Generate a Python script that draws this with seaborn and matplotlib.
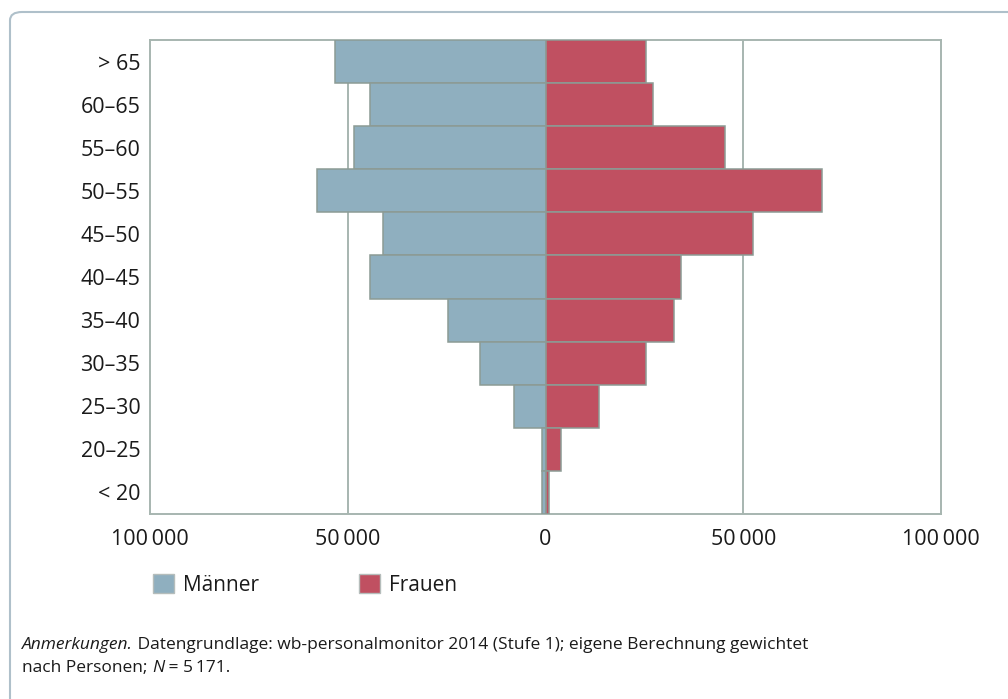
import pandas as pd
import seaborn as sns
import matplotlib.pyplot as plt
from matplotlib import font_manager
from matplotlib.patches import Patch, FancyBboxPatch
from matplotlib.ticker import FuncFormatter

# age groups, top to bottom
age_groups = ["> 65", "60–65", "55–60", "50–55", "45–50", "40–45",
              "35–40", "30–35", "25–30", "20–25", "< 20"]
maenner = [53200, 44400, 48400, 57900, 41200, 44400, 24600, 16600, 7900, 800, 800]
frauen = [25500, 27100, 45400, 69900, 52500, 34200, 32600, 25500, 13500, 4000, 900]

male_col = "#8FAFBF"
female_col = "#C05061"
edge_col = "#8C9B94"
line_col = "#A7B6B0"

available = {f.name for f in font_manager.fontManager.ttflist}
font = "DejaVu Sans"
for name in ["Liberation Sans Narrow", "Open Sans", "Noto Sans", "Roboto"]:
    if name in available:
        font = name
        break

sns.set_style("white")
plt.rcParams["font.family"] = [font, "DejaVu Sans"]
plt.rcParams["text.color"] = "#1a1a1a"

df = pd.DataFrame({
    "age": age_groups * 2,
    "value": [-v for v in maenner] + frauen,
    "sex": ["Männer"] * len(age_groups) + ["Frauen"] * len(age_groups),
})

fig = plt.figure(figsize=(10.08, 6.99), dpi=100)
ax = fig.add_axes([150 / 1008, 1 - 514 / 699, 791 / 1008, 474 / 699])

sns.barplot(data=df, x="value", y="age", hue="sex", order=age_groups,
            palette={"Männer": male_col, "Frauen": female_col},
            saturation=1, dodge=False, width=1.0, orient="h",
            edgecolor=edge_col, linewidth=1.1, legend=False, ax=ax, zorder=3)

ax.set_xlim(-100000, 100000)
ax.set_ylim(len(age_groups) - 0.5, -0.5)
for x in (-50000, 50000):
    ax.axvline(x, color=line_col, lw=1.4, zorder=1)

ax.set_xticks([-100000, -50000, 0, 50000, 100000])
ax.xaxis.set_major_formatter(FuncFormatter(
    lambda v, p: f"{abs(int(v)):,}".replace(",", "\u2009")))
ax.tick_params(axis="both", length=0, labelsize=15.5, colors="#1a1a1a")
ax.tick_params(axis="x", pad=11)
ax.tick_params(axis="y", pad=7)
ax.set_xlabel("")
ax.set_ylabel("")
for s in ax.spines.values():
    s.set_color(line_col)
    s.set_linewidth(1.4)

handles = [Patch(facecolor=male_col, edgecolor="#B5BDBB", label="Männer"),
           Patch(facecolor=female_col, edgecolor="#B5BDBB", label="Frauen")]
fig.legend(handles=handles, loc="center left",
           bbox_to_anchor=(134 / 1008, 1 - 585 / 699), ncol=2, frameon=False,
           fontsize=15, handlelength=1.0, handleheight=1.0,
           handletextpad=0.45, columnspacing=4.8)

# note below the chart
t1 = fig.text(22 / 1008, 1 - 645 / 699, "Anmerkungen.", fontsize=12.5,
              style="italic", va="center")
ax.annotate(" Datengrundlage: wb-personalmonitor 2014 (Stufe 1); eigene Berechnung gewichtet",
            xy=(1, 0), xycoords=t1, va="bottom", fontsize=12.5)
t2 = fig.text(22 / 1008, 1 - 668 / 699, "nach Personen; ", fontsize=12.5, va="center")
t3 = ax.annotate("N", xy=(1, 0), xycoords=t2, va="bottom", fontsize=12.5,
                 style="italic")
ax.annotate(" = 5\u2009171.", xy=(1, 0), xycoords=t3, va="bottom", fontsize=12.5)

# rounded frame, open to the right and bottom
frame = FancyBboxPatch((10 / 1008, -0.1), 1.2, 1 - 12 / 699 + 0.1,
                       boxstyle="round,pad=0,rounding_size=0.012",
                       transform=fig.transFigure, facecolor="none",
                       edgecolor="#AFC0CA", lw=1.5)
fig.patches.append(frame)

fig.savefig("out.png", dpi=100)
